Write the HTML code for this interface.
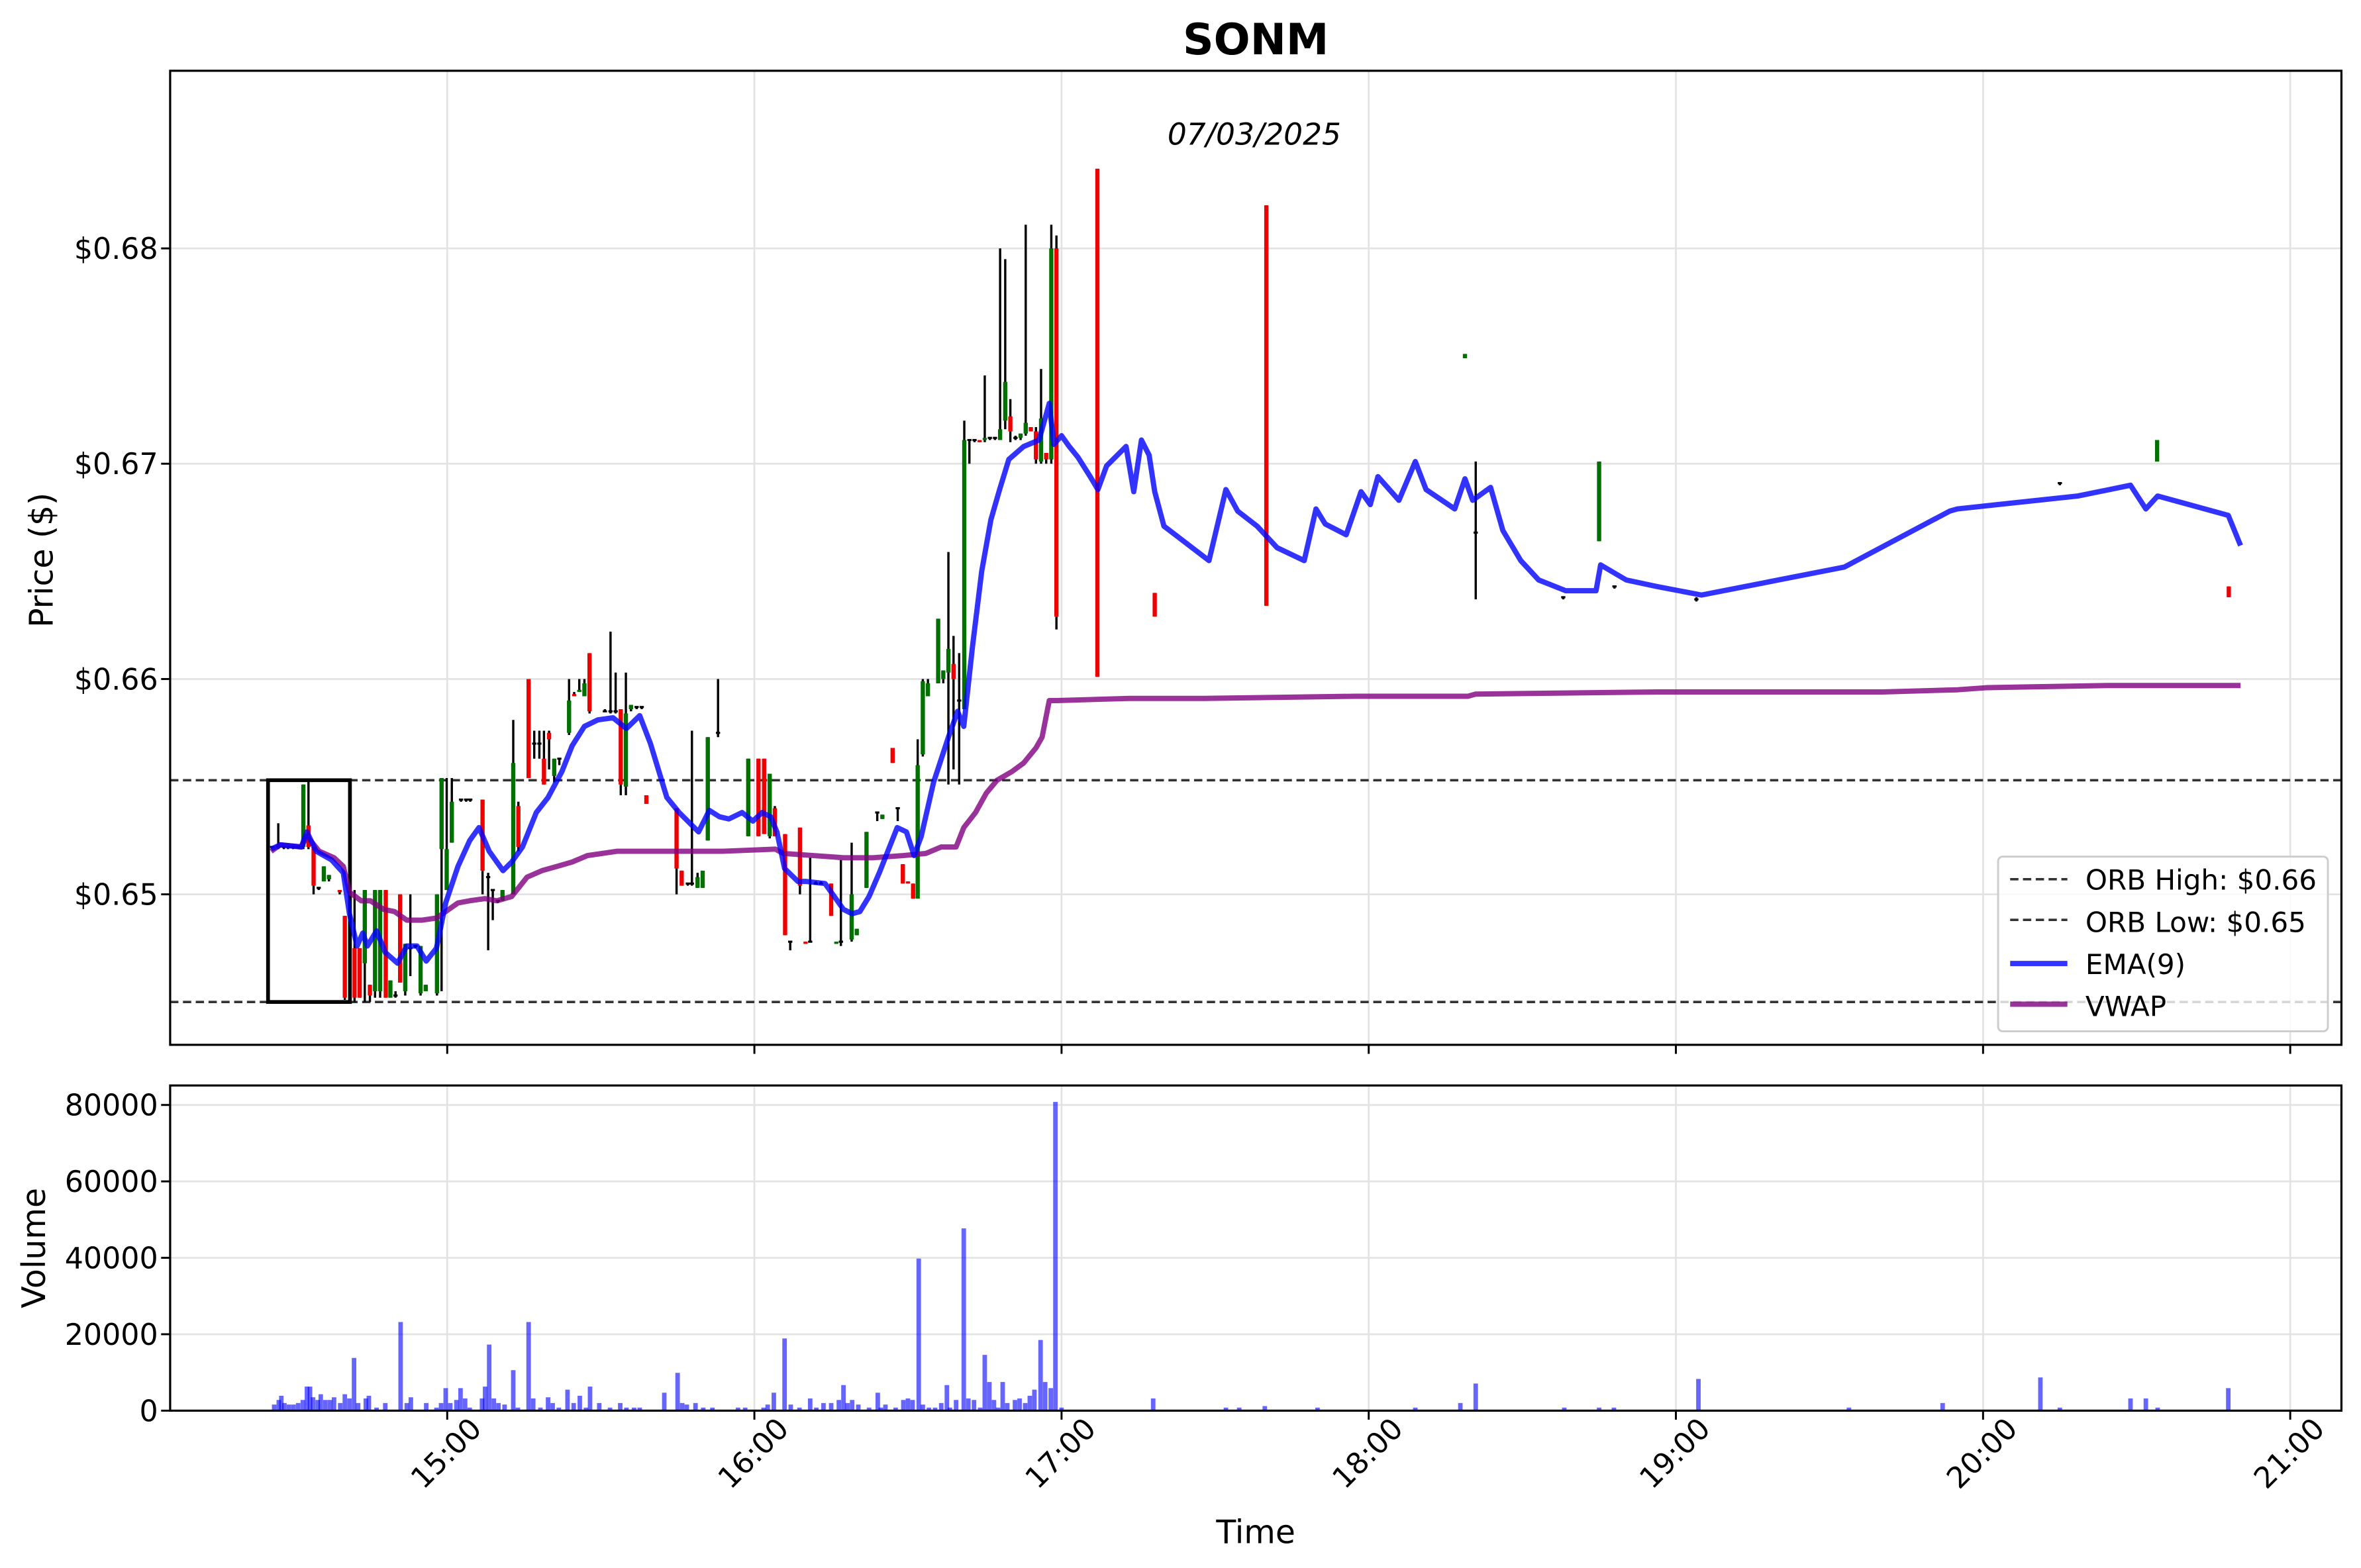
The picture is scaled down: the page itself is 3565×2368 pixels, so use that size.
<!DOCTYPE html>
<html><head><meta charset="utf-8"><style>
html,body{margin:0;padding:0;background:#fff;}
svg{display:block;}
text{font-family:"DejaVu Sans","Liberation Sans",sans-serif;fill:#000;}
</style></head><body>
<svg id="chart" width="3565" height="2368" viewBox="0 0 1568 1041.5" xmlns="http://www.w3.org/2000/svg">
<rect x="0" y="0" width="1568" height="1041.5" fill="#fff"/>
<g id="grid"></g>
<g id="orb"></g>
<g id="vol"></g>
<g id="candles"></g>
<g id="lines"></g>
<g id="axes"></g>
<text x="834" y="36" font-size="28.5" font-weight="bold" text-anchor="middle">SONM</text>
<text x="833" y="96" font-size="20" font-style="italic" text-anchor="middle">07/03/2025</text>
<text transform="translate(35,372) rotate(-90)" font-size="21.5" text-anchor="middle">Price ($)</text>
<text transform="translate(30,829) rotate(-90)" font-size="21.5" text-anchor="middle">Volume</text>
<text x="834" y="1025" font-size="21.5" text-anchor="middle">Time</text>
<g id="legend">
<rect x="1327" y="569" width="219" height="116" rx="3" fill="#fff" fill-opacity="0.8" stroke="#cccccc" stroke-width="1.3"/>
<line x1="1335" y1="584" x2="1373" y2="584" stroke="#333" stroke-width="1.6" stroke-dasharray="5.5,3"/>
<text x="1385" y="591" font-size="18.5">ORB High: $0.66</text>
<line x1="1335" y1="611" x2="1373" y2="611" stroke="#333" stroke-width="1.6" stroke-dasharray="5.5,3"/>
<text x="1385" y="619" font-size="18.5">ORB Low: $0.65</text>
<line x1="1335" y1="640" x2="1373" y2="640" stroke="#0000ff" stroke-opacity="0.8" stroke-width="3.5"/>
<text x="1385" y="647" font-size="18.5">EMA(9)</text>
<line x1="1335" y1="667" x2="1373" y2="667" stroke="#800080" stroke-opacity="0.8" stroke-width="3.5"/>
<text x="1385" y="675" font-size="18.5">VWAP</text>
</g>
</svg>
<script>
// ---- data (minutes after 14:00) ----
const candleTimes=[25.8,27,28.1,28.9,29.9,30.9,31.9,32.9,33.9,34.9,35.9,36.9,39,40,41.9,42.9,43.9,44.9,45.9,46.9,48,48.9,49.9,50.8,51.8,52.8,53.8,54.8,55.8,58,58.9,59.9,60.9,62.7,63.7,64.5,66.9,68,68.9,69.9,70.8,72.9,73.9,75.9,77,78,78.9,79.9,80.9,81.9,83.8,84.8,85.8,86.8,87.8,90.8,91.9,92.9,93.9,94.9,95.9,97,98,98.9,104.8,105.8,107,107.8,108.9,109.9,110.9,112.9,118.8,120.8,121.9,123,124,126,127,128.9,130,130.9,132,133,135,136,136.9,139,140,141.9,144,145,147,148,149,150,151,151.9,152.9,153.9,155.9,156.9,157.9,158.9,160,161,162,163,164,165,166,167,168,169,170,171,172,173,174,175,176,177,178,179,187,198.2,220,258.8,260.9,278,285,288,304,375,394,408];
const candleOpen=[.6522,.6522,.6522,.6522,.6522,.6522,.6522,.6532,.6522,.6503,.6506,.6507,.6502,.6490,.6475,.6475,.6468,.6458,.6455,.6455,.6502,.6452,.6453,.6500,.6455,.6475,.6476,.6454,.6455,.6454,.6521,.6502,.6524,.6544,.6544,.6544,.6544,.6508,.6502,.6497,.6497,.6500,.6541,.6600,.6570,.6570,.6563,.6575,.6555,.6563,.6575,.6593,.6594,.6592,.6612,.6585,.6585,.6585,.6586,.6550,.6586,.6587,.6587,.6546,.6540,.6511,.6505,.6505,.6503,.6503,.6525,.6575,.6527,.6563,.6563,.6527,.6540,.6528,.6478,.6531,.6478,.6478,.6505,.6505,.6505,.6477,.6478,.6479,.6481,.6503,.6538,.6535,.6568,.6540,.6514,.6506,.6505,.6498,.6565,.6592,.6598,.6600,.6603,.6607,.6590,.6586,.6711,.6711,.6711,.6711,.6712,.6712,.6711,.6720,.6722,.6712,.6712,.6714,.6717,.6715,.6701,.6705,.6702,.6800,.6837,.6640,.6820,.6749,.6668,.6638,.6664,.6643,.6637,.6691,.6701,.6643];
const candleHigh=[.6522,.6533,.6522,.6522,.6522,.6522,.6551,.6553,.6522,.6503,.6513,.6509,.6502,.6490,.6502,.6475,.6502,.6458,.6502,.6502,.6502,.6460,.6455,.6500,.6477,.6500,.6476,.6476,.6458,.6500,.6554,.6554,.6554,.6544,.6544,.6544,.6544,.6510,.6502,.6497,.6502,.6581,.6543,.6600,.6576,.6576,.6576,.6576,.6563,.6563,.6600,.6594,.6600,.6600,.6612,.6586,.6622,.6603,.6586,.6603,.6588,.6587,.6587,.6546,.6540,.6511,.6505,.6576,.6510,.6510,.6573,.6600,.6563,.6563,.6563,.6556,.6541,.6528,.6478,.6531,.6478,.6517,.6506,.6506,.6505,.6478,.6516,.6524,.6484,.6529,.6538,.6537,.6568,.6540,.6514,.6506,.6505,.6572,.6600,.6600,.6628,.6604,.6659,.6620,.6612,.6720,.6711,.6711,.6711,.6741,.6712,.6712,.6800,.6795,.6730,.6713,.6714,.6811,.6717,.6717,.6744,.6705,.6811,.6806,.6837,.6640,.6820,.6751,.6701,.6638,.6701,.6643,.6638,.6691,.6711,.6643];
const candleLow=[.6521,.6521,.6521,.6521,.6521,.6521,.6521,.6521,.6500,.6502,.6506,.6506,.6500,.6451,.6450,.6452,.6450,.6450,.6452,.6452,.6452,.6452,.6452,.6459,.6453,.6462,.6475,.6453,.6455,.6453,.6455,.6502,.6524,.6543,.6543,.6543,.6500,.6474,.6488,.6496,.6497,.6500,.6520,.6554,.6563,.6563,.6551,.6558,.6552,.6560,.6574,.6592,.6594,.6592,.6584,.6585,.6584,.6584,.6546,.6546,.6585,.6586,.6586,.6542,.6500,.6504,.6504,.6504,.6503,.6503,.6525,.6573,.6527,.6527,.6528,.6526,.6527,.6481,.6474,.6500,.6477,.6478,.6505,.6505,.6490,.6477,.6476,.6478,.6481,.6503,.6534,.6535,.6561,.6534,.6505,.6505,.6498,.6498,.6564,.6592,.6598,.6598,.6551,.6558,.6551,.6586,.6700,.6710,.6710,.6710,.6711,.6711,.6711,.6716,.6710,.6711,.6711,.6713,.6715,.6700,.6700,.6700,.6700,.6623,.6601,.6629,.6634,.6749,.6637,.6637,.6664,.6642,.6636,.6690,.6701,.6638];
const candleClose=[.6522,.6522,.6522,.6522,.6522,.6522,.6551,.6522,.6504,.6503,.6513,.6509,.6501,.6452,.6452,.6452,.6502,.6453,.6502,.6502,.6452,.6460,.6453,.6459,.6477,.6475,.6476,.6476,.6458,.6500,.6554,.6521,.6543,.6544,.6544,.6544,.6511,.6508,.6502,.6497,.6502,.6561,.6522,.6554,.6570,.6570,.6551,.6572,.6563,.6563,.6590,.6592,.6595,.6598,.6585,.6585,.6585,.6585,.6551,.6584,.6588,.6587,.6587,.6542,.6512,.6504,.6505,.6505,.6508,.6511,.6573,.6575,.6563,.6527,.6528,.6556,.6527,.6481,.6478,.6504,.6477,.6478,.6505,.6505,.6490,.6478,.6478,.6500,.6484,.6529,.6538,.6537,.6561,.6540,.6505,.6505,.6498,.6560,.6599,.6598,.6628,.6604,.6614,.6600,.6590,.6711,.6711,.6711,.6710,.6712,.6712,.6712,.6716,.6738,.6715,.6712,.6714,.6719,.6715,.6702,.6721,.6702,.6800,.6629,.6601,.6629,.6634,.6751,.6668,.6638,.6701,.6643,.6637,.6691,.6711,.6638];

const emaTimes=[25.6,27.4,31.5,32.6,34.4,37.4,39.7,40.9,42.4,43.5,44.4,46.2,47.9,50.3,52.1,54.1,55.9,57.9,59.7,62.1,64.4,66.2,68.2,70.9,72.6,74.7,77.4,79.7,82.4,84.4,86.8,89.4,92.4,95,97.6,99.7,102.9,105.3,109.1,111.2,113.2,115,117.6,119.7,121.5,123.2,124.4,125.9,128.5,130,133.8,137.4,139.1,140.6,142.4,144.4,147.9,149.7,151.2,152.6,155,157.9,159.7,160.9,162.6,164.4,166.2,167.9,169.7,172.6,175.6,177.6,178.5,180,181.5,183.2,185.6,187.1,188.8,192.6,194.1,195.6,197.1,198.2,200,208.8,212.1,214.4,218.2,222.1,227.4,229.7,231.5,235.6,238.5,240.3,241.8,245.9,249.1,251.2,256.8,258.8,260.3,263.8,266.2,269.7,273.2,278.5,284.4,285.3,290.3,296.2,305,332.9,353.5,355,378.5,388.8,391.8,394.1,407.9,410.3];
const emaValues=[.6521,.6523,.6522,.6529,.6520,.6516,.6510,.6491,.6476,.6482,.6476,.6483,.6473,.6468,.6476,.6476,.6469,.6475,.6496,.6513,.6525,.6531,.6520,.6511,.6515,.6522,.6538,.6545,.6557,.6569,.6578,.6581,.6582,.6577,.6583,.6570,.6545,.6538,.6529,.6539,.6536,.6535,.6538,.6534,.6538,.6536,.6529,.6512,.6506,.6506,.6505,.6493,.6491,.6492,.6499,.6510,.6531,.6529,.6518,.6527,.6552,.6573,.6585,.6578,.6615,.6650,.6674,.6688,.6702,.6708,.6711,.6728,.6709,.6713,.6708,.6703,.6694,.6688,.6699,.6708,.6687,.6711,.6704,.6687,.6671,.6655,.6688,.6678,.6671,.6661,.6655,.6679,.6672,.6667,.6687,.6681,.6694,.6683,.6701,.6688,.6679,.6693,.6683,.6689,.6669,.6655,.6646,.6641,.6641,.6653,.6646,.6643,.6639,.6652,.6678,.6679,.6685,.6690,.6679,.6685,.6676,.6662];

const vwapTimes=[25.6,27.4,31.5,32.6,35,37.9,39.7,40.9,43.2,45,47.6,49.7,52.1,55,57.9,59.7,62.1,64.4,67.4,69.7,72.6,75.6,78.5,81.5,84.4,87.4,90.3,93.2,96.2,102.1,107.9,113.8,124.1,125.6,131.5,137.4,143.2,149.1,153.5,156.5,159.4,160.9,163.2,165.3,167.4,170.3,172.6,175,176.2,177.6,179.1,193.2,207.9,237.4,259.4,260.9,296.2,305,340.3,355,360.9,384.4,410.3];
const vwapValues=[.6520,.6523,.6522,.6527,.6520,.6517,.6513,.6501,.6497,.6497,.6493,.6492,.6488,.6488,.6489,.6492,.6496,.6497,.6498,.6497,.6499,.6508,.6511,.6513,.6515,.6518,.6519,.6520,.6520,.6520,.6520,.6520,.6521,.6519,.6518,.6517,.6517,.6518,.6519,.6522,.6522,.6531,.6538,.6547,.6553,.6557,.6561,.6568,.6573,.6590,.6590,.6591,.6591,.6592,.6592,.6593,.6594,.6594,.6594,.6595,.6596,.6597,.6597];

const volTimes=[26.2,27.1,27.6,28.2,29.1,30,30.9,31.8,32.6,33.2,33.8,34.7,35.3,36.2,37.1,37.9,39.1,40,40.9,41.8,42.6,44.1,44.7,46.2,47.9,50.9,52.1,52.9,55.9,57.9,58.8,59.7,60.6,61.8,62.6,63.5,64.4,66.8,67.4,68.2,69.1,70,71.2,72.9,73.8,75.9,76.8,78.2,79.7,80.6,81.8,83.5,84.7,85.9,87.1,87.9,89.7,91.8,93.8,95,96.5,97.6,102.4,105,105.9,106.8,108.5,110,111.8,116.8,118.2,121.8,122.6,123.8,125.9,127.1,128.8,130.9,132.1,133.5,135,136.5,137.4,138.2,139.1,140.3,142.4,144.1,144.7,145.6,147.6,149.1,150,150.9,152.1,152.9,154.1,155.3,156.5,157.6,158.2,159.4,160.9,161.8,162.9,164.1,165,165.9,166.8,167.6,168.5,169.4,170.9,171.8,172.9,173.8,174.7,175.9,176.8,177.9,178.8,180,197.9,212.1,214.7,219.7,230,249.1,257.9,260.9,278.2,285,287.9,304.4,333.8,352.1,371.2,375,388.8,391.8,394.1,407.9];
const volValues=[1600,2800,3900,2000,1600,1600,2000,2800,6300,6300,3500,2800,4300,2800,2800,3500,2000,4300,3200,13800,2000,3200,3900,800,2000,23200,2000,3500,2000,800,2000,5900,2000,2800,5900,3200,800,3200,6300,17300,3200,2000,1600,10600,800,23200,3200,800,3500,2000,800,5500,2000,3900,800,6300,2000,800,2000,800,800,800,4700,9900,2000,1600,2000,800,800,800,800,800,1600,4700,18900,1600,800,3200,800,2000,2000,2800,6700,2000,2800,1600,800,4700,800,1600,800,2800,3200,2800,39800,1600,800,800,2000,6700,800,2800,47700,3200,2800,800,14600,7500,2800,800,7500,2000,2800,3200,2000,3900,5500,18500,7500,5900,80800,800,3200,800,800,1200,800,800,2000,7100,800,800,800,8300,800,2000,8700,800,3200,3200,800,5900];

const orbHigh=0.6553, orbLow=0.6450, orbStart=25, orbEnd=41;
const priceTicks=[0.65,0.66,0.67,0.68];
const priceTickLabels=["$0.65","$0.66","$0.67","$0.68"];
const volTicks=[0,20000,40000,60000,80000];
const volTickLabels=["0","20000","40000","60000","80000"];
const timeTicks=[60,120,180,240,300,360,420];
const timeTickLabels=["15:00","16:00","17:00","18:00","19:00","20:00","21:00"];

// ---- scales ----
const L=113,R=1555,PT=47,PB=694,VT=721,VB=937;
const T0=5.88,T1=430.0,P0=0.64301,P1=0.68825,V1=85100;
const X=t=>L+(t-T0)/(T1-T0)*(R-L);
const Y=p=>PB-(p-P0)/(P1-P0)*(PB-PT);
const YV=v=>VB-v/V1*(VB-VT);
const NS="http://www.w3.org/2000/svg";
function mk(tag,parent,attrs){const e=document.createElementNS(NS,tag);for(const k in attrs)e.setAttribute(k,attrs[k]);parent.appendChild(e);return e;}
const grid=document.getElementById('grid'),axes=document.getElementById('axes');

timeTicks.forEach((t,i)=>{
  let g=mk('line',grid,{x1:X(t),x2:X(t),y1:PT,y2:PB,stroke:'#e3e3e3','stroke-width':1.2});
  
  
  g=mk('line',grid,{x1:X(t),x2:X(t),y1:VT,y2:VB,stroke:'#e3e3e3','stroke-width':1.2});
  
  
});
priceTicks.forEach(p=>{
  const g=mk('line',grid,{x1:L,x2:R,y1:Y(p),y2:Y(p),stroke:'#e3e3e3','stroke-width':1.2});
  
  
});
volTicks.forEach(v=>{
  const g=mk('line',grid,{x1:L,x2:R,y1:YV(v),y2:YV(v),stroke:'#e3e3e3','stroke-width':1.2});
  
  
});

const orbG=document.getElementById('orb');
let e=mk('line',orbG,{x1:L,x2:R,y1:Y(orbHigh),y2:Y(orbHigh),stroke:'#333','stroke-width':1.6,'stroke-dasharray':'5.5,3'});


e=mk('line',orbG,{x1:L,x2:R,y1:Y(orbLow),y2:Y(orbLow),stroke:'#333','stroke-width':1.6,'stroke-dasharray':'5.5,3'});



const volG=document.getElementById('vol');
volTimes.forEach((t,i)=>{
  const b=mk('rect',volG,{x:X(t)-1.5,width:3,y:YV(volValues[i]),height:VB-YV(volValues[i]),fill:'#0000ff','fill-opacity':0.6});
  
  
});

const cG=document.getElementById('candles');
candleTimes.forEach((t,i)=>{
  const o=candleOpen[i],h=candleHigh[i],l=candleLow[i],c=candleClose[i];
  const w=mk('line',cG,{x1:X(t),x2:X(t),y1:Y(h),y2:Y(l),stroke:'#000','stroke-width':1.5});
  
  
  const col=c>o?'#007000':(c<o?'#ee0000':'#000');
  const top=Y(Math.max(o,c)),bot=Y(Math.min(o,c));
  const b=mk('rect',cG,{x:X(t)-1.4,width:2.8,y:top-(bot-top<1.3?0.7:0),height:Math.max(bot-top,1.4),fill:col});
  
  
});
e=mk('rect',cG,{x:X(orbStart),y:Y(orbHigh),width:X(orbEnd)-X(orbStart),height:Y(orbLow)-Y(orbHigh),fill:'none',stroke:'#000','stroke-width':2.5});



const lG=document.getElementById('lines');
e=mk('polyline',lG,{points:vwapTimes.map((t,i)=>X(t)+','+Y(vwapValues[i])).join(' '),fill:'none',stroke:'#800080','stroke-opacity':0.8,'stroke-width':3.5,'stroke-linejoin':'round'});


e=mk('polyline',lG,{points:emaTimes.map((t,i)=>X(t)+','+Y(emaValues[i])).join(' '),fill:'none',stroke:'#0000ff','stroke-opacity':0.8,'stroke-width':3.5,'stroke-linejoin':'round'});



e=mk('rect',axes,{x:L,y:PT,width:R-L,height:PB-PT,fill:'none',stroke:'#000','stroke-width':1.4});


e=mk('rect',axes,{x:L,y:VT,width:R-L,height:VB-VT,fill:'none',stroke:'#000','stroke-width':1.4});


priceTicks.forEach((p,i)=>{
  mk('line',axes,{x1:L-6,x2:L,y1:Y(p),y2:Y(p),stroke:'#000','stroke-width':1.3});
  const tx=mk('text',axes,{x:L-8,y:Y(p)+7,'font-size':19.5,'text-anchor':'end'});
  tx.textContent=priceTickLabels[i];
  
  
});
volTicks.forEach((v,i)=>{
  mk('line',axes,{x1:L-6,x2:L,y1:YV(v),y2:YV(v),stroke:'#000','stroke-width':1.3});
  const tx=mk('text',axes,{x:L-8,y:YV(v)+7,'font-size':19.5,'text-anchor':'end'});
  tx.textContent=volTickLabels[i];
  
  
});
timeTicks.forEach((t,i)=>{
  mk('line',axes,{x1:X(t),x2:X(t),y1:PB,y2:PB+6,stroke:'#000','stroke-width':1.3});
  mk('line',axes,{x1:X(t),x2:X(t),y1:VB,y2:VB+6,stroke:'#000','stroke-width':1.3});
  const tx=mk('text',axes,{x:0,y:0,'font-size':19.5,'text-anchor':'middle',transform:'translate('+(X(t)+4)+','+(970)+') rotate(-45)'});
  tx.textContent=timeTickLabels[i];
  
  
});
</script>
</body></html>
